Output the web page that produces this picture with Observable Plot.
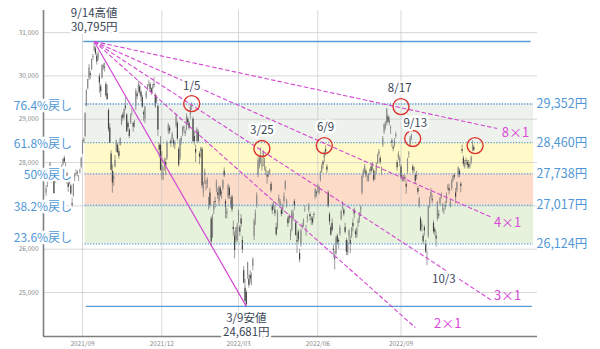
<!DOCTYPE html>
<html><head><meta charset="utf-8">
<script src="https://cdn.jsdelivr.net/npm/d3@7"></script>
<script src="https://cdn.jsdelivr.net/npm/@observablehq/plot@0.6"></script>
<style>body{margin:0;background:#fff}svg{display:block}</style>
</head><body><div id="chart"></div>
<script>
// ---- daily candles [day, open, high, low, close] ----
const m2021_07 = [[20,27300,27470,27220,27388],[21,27560,27650,27420,27548],[26,27700,27880,27650,27833],[27,27890,28000,27860,27970],[28,27680,27700,27520,27581],[29,27690,27830,27630,27782],[30,27600,27660,27270,27283]];
const m2021_08 = [[2,27560,27800,27520,27781],[3,27800,27830,27600,27641],[4,27690,27720,27540,27584],[5,27630,27740,27560,27728],[6,27850,27900,27760,27820],[10,27900,27950,27830,27888],[11,27960,28080,27920,28070],[12,28100,28150,27980,28015],[13,27980,28000,27890,27977],[16,27750,27780,27500,27523],[17,27510,27580,27310,27424],[18,27500,27640,27480,27585],[19,27460,27500,27240,27281],[20,27050,27180,26954,27013],[23,27230,27510,27200,27494],[24,27660,27750,27560,27732],[25,27730,27830,27690,27724],[26,27760,27810,27670,27742],[27,27640,27700,27560,27641],[30,27800,27850,27730,27789],[31,27900,28120,27850,28089]];
const m2021_09 = [[1,28200,28510,28190,28451],[2,28480,28570,28440,28543],[3,28600,29150,28580,29128],[6,29300,29680,29290,29660],[7,29700,29920,29680,29916],[8,29950,30260,29900,30181],[9,30050,30100,29910,30008],[10,30150,30390,30120,30381],[13,30420,30500,30360,30447],[14,30600,30795,30550,30670],[15,30620,30670,30470,30511],[16,30460,30520,30250,30323],[17,30400,30560,30340,30500],[21,29980,30050,29600,29839],[22,29750,29810,29500,29639],[24,29950,30250,29920,30248],[27,30180,30280,30130,30240],[28,30200,30300,30090,30183],[29,29800,29850,29500,29544],[30,29580,29790,29440,29452]];
const m2021_10 = [[1,29200,29240,28700,28771],[4,28800,28900,28440,28444],[5,28200,28270,27800,27822],[6,27800,27950,27293,27528],[7,27600,27780,27450,27678],[8,27900,28160,27880,28048],[11,28250,28520,28230,28498],[12,28400,28450,28200,28230],[13,28250,28320,28080,28140],[14,28400,28570,28380,28550],[15,28880,29090,28850,29068],[18,29100,29150,28950,29025],[19,29050,29250,29000,29215],[20,29300,29490,29200,29255],[21,29100,29130,28700,28708],[22,28900,28950,28750,28804],[25,28750,28780,28550,28600],[26,28900,29120,28880,29106],[27,29100,29240,29080,29098],[28,28900,28940,28700,28820],[29,28900,28970,28800,28892]];
const m2021_11 = [[1,29300,29700,29200,29647],[2,29580,29640,29450,29520],[4,29650,29880,29600,29794],[5,29750,29800,29550,29611],[8,29620,29650,29400,29507],[9,29500,29550,29250,29285],[10,29150,29200,28950,29106],[11,29000,29300,28900,29277],[12,29500,29650,29450,29609],[15,29680,29800,29650,29776],[16,29800,29900,29750,29808],[17,29800,29850,29650,29688],[18,29700,29720,29550,29598],[19,29700,29800,29600,29745],[22,29800,29960,29720,29774],[24,29550,29600,29250,29302],[25,29400,29550,29350,29499],[26,29300,29310,28600,28751],[29,28400,28450,28100,28283],[30,28400,28600,27800,27821]];
const m2021_12 = [[1,27800,28250,27600,27935],[2,27700,27900,27580,27753],[3,28000,28100,27800,28029],[6,28000,28100,27700,27927],[7,28100,28500,28050,28455],[8,28700,28900,28650,28860],[9,28800,28850,28650,28725],[10,28500,28550,28350,28437],[13,28550,28700,28500,28640],[14,28500,28550,28350,28432],[15,28400,28500,28300,28459],[16,28850,29100,28800,29066],[17,28900,28950,28500,28545],[20,28300,28350,27890,27937],[21,28100,28550,28050,28517],[22,28500,28600,28400,28562],[23,28650,28830,28600,28798],[24,28800,28850,28700,28782],[27,28700,28750,28600,28676],[28,28750,29120,28730,29069],[29,29000,29050,28850,28906],[30,28900,28950,28750,28791]];
const m2022_01 = [[4,29100,29320,29000,29301],[5,29300,29388,29200,29332],[6,29000,29050,28450,28487],[7,28600,28700,28400,28478],[11,28300,28400,28000,28222],[12,28500,28800,28450,28765],[13,28700,28750,28450,28489],[14,28200,28250,27950,28124],[17,28250,28350,28100,28333],[18,28300,28350,27400,27467],[19,27300,27550,27200,27467],[20,27700,27850,27500,27772],[21,27500,27600,27350,27522],[24,27500,27650,27400,27588],[25,27100,27200,26900,27131],[26,27300,27400,26950,27011],[27,26700,26750,26044,26170],[28,26300,26800,26250,26717],[31,26900,27100,26800,27001]];
const m2022_02 = [[1,27100,27200,26950,27078],[2,27400,27600,27300,27533],[3,27300,27400,27150,27241],[4,27100,27450,27000,27439],[7,27400,27450,27200,27248],[8,27300,27350,27150,27284],[9,27400,27600,27350,27579],[10,27800,27880,27650,27696],[14,27100,27150,26700,26963],[15,26800,26950,26700,26865],[16,27200,27500,27150,27460],[17,27400,27450,27150,27232],[18,27000,27200,26950,27122],[21,27200,27250,26850,26910],[22,26500,26650,26300,26449],[24,26300,26400,25776,25970],[25,26200,26500,26150,26476],[28,26200,26600,26150,26526]];
const m2022_03 = [[1,26750,26900,26600,26844],[2,26500,26550,26300,26393],[3,26700,26800,26500,26577],[4,26200,26300,25900,25985],[7,25500,25600,25200,25221],[8,25100,25300,24800,24790],[9,25000,25050,24681,24717],[10,25400,25700,25300,25690],[11,25300,25400,25100,25162],[14,25400,25500,25200,25307],[15,25350,25450,25150,25346],[16,25600,25800,25500,25762],[17,26300,26700,26200,26652],[18,26700,26900,26550,26827],[22,27000,27300,26950,27224],[23,27700,28100,27650,28040],[24,27900,28150,27850,28110],[25,28000,28340,27950,28149],[28,27900,28100,27800,27943],[29,28100,28280,27900,28252],[30,28000,28100,27800,28027],[31,27800,27900,27700,27821]];
const m2022_04 = [[1,27700,27800,27500,27666],[4,27700,27800,27650,27736],[5,27800,27850,27700,27787],[6,27500,27550,27300,27350],[7,27000,27050,26800,26888],[8,27000,27100,26900,26985],[11,26900,27000,26750,26821],[12,26500,26600,26300,26335],[13,26500,26900,26450,26843],[14,27100,27250,27050,27172],[15,27000,27150,26950,27093],[18,26900,26950,26750,26800],[19,26900,27050,26800,26985],[20,27100,27300,27050,27217],[21,27400,27580,27350,27553],[22,27000,27150,26950,27105],[25,26700,26750,26500,26590],[26,26750,26800,26600,26700],[27,26300,26450,26200,26386],[28,26450,26900,26400,26847]];
const m2022_05 = [[2,26700,26900,26650,26818],[6,27100,27150,26900,27003],[9,26600,26650,26300,26319],[10,26200,26350,25900,26167],[11,26400,26450,26150,26213],[12,25900,26000,25688,25748],[13,26100,26450,26050,26427],[16,26500,26600,26450,26547],[17,26600,26700,26500,26659],[18,26900,27000,26850,26911],[19,26400,26550,26300,26402],[20,26700,26800,26600,26739],[23,26900,27050,26850,27001],[24,26800,26850,26650,26748],[25,26700,26750,26550,26677],[26,26700,26750,26550,26604],[27,26800,26850,26700,26781],[30,27200,27400,27150,27369],[31,27300,27350,27200,27279]];
const m2022_06 = [[1,27400,27500,27300,27457],[2,27300,27450,27250,27413],[3,27600,27800,27550,27761],[6,27800,27950,27750,27915],[7,28000,28050,27850,27943],[8,28100,28250,28000,28234],[9,28300,28389,28150,28246],[10,27900,27950,27750,27824],[13,27300,27350,26950,26987],[14,26800,26850,26550,26629],[15,26500,26550,26300,26326],[16,26600,26700,26400,26431],[17,26000,26100,25800,25963],[20,25800,25950,25520,25771],[21,25900,26300,25850,26246],[22,26300,26350,26100,26149],[23,26200,26250,26000,26171],[24,26350,26550,26300,26491],[27,26700,26900,26650,26871],[28,26950,27100,26900,27049],[29,26900,26950,26750,26804],[30,26500,26600,26350,26393]];
const m2022_07 = [[1,26200,26250,25850,25935],[4,25900,26200,25850,26153],[5,26300,26450,26200,26423],[6,26200,26300,25900,26107],[7,26300,26500,26250,26490],[8,26600,26700,26400,26517],[11,26900,26950,26700,26812],[12,26400,26450,26250,26336],[13,26300,26500,26250,26478],[14,26600,26700,26500,26643],[15,26700,26850,26600,26788],[19,26900,27000,26750,26961],[20,27300,27700,27250,27680],[21,27700,27850,27650,27803],[22,27800,27950,27750,27915],[25,27800,27850,27650,27699],[26,27650,27700,27550,27655],[27,27600,27750,27550,27715],[28,27800,27850,27700,27815],[29,27900,27950,27750,27801]];
const m2022_08 = [[1,27850,28000,27800,27993],[2,27800,27850,27550,27594],[3,27700,27800,27600,27741],[4,27800,28000,27750,27932],[5,28000,28200,27950,28176],[8,28200,28300,28150,28249],[9,28100,28150,27950,27999],[10,27800,27900,27700,27819],[12,28400,28600,28350,28546],[15,28700,28900,28650,28871],[16,28800,28950,28750,28868],[17,28900,29250,28850,29222],[18,29050,29100,28900,28942],[19,28950,29050,28850,28930],[22,28800,28850,28650,28794],[23,28500,28550,28350,28452],[24,28350,28400,28250,28313],[25,28400,28550,28350,28479],[26,28600,28700,28550,28641],[29,28000,28050,27800,27878],[30,28100,28250,28050,28195],[31,28000,28150,27900,28091]];
const m2022_09 = [[1,27900,27950,27600,27661],[2,27600,27700,27550,27650],[5,27600,27700,27550,27619],[6,27650,27700,27550,27626],[7,27500,27550,27270,27430],[8,27800,28100,27750,28065],[9,28200,28250,28100,28214],[12,28400,28600,28350,28542],[13,28550,28659,28500,28614],[14,27900,27950,27750,27818],[15,27800,27900,27750,27875],[16,27700,27750,27500,27567],[20,27700,27800,27600,27688],[21,27400,27450,27250,27313],[22,27000,27200,26950,27153],[26,26700,26750,26400,26431],[27,26500,26650,26400,26571],[28,26300,26350,26100,26173],[29,26500,26550,26300,26422],[30,26100,26200,25900,25937]];
const m2022_10 = [[3,25800,25950,25621,25815],[4,26300,27000,26250,26992],[5,27000,27200,26950,27120],[6,27200,27400,27150,27311],[7,27150,27250,27050,27116],[11,26600,26650,26350,26401],[12,26450,26500,26300,26397],[13,26300,26400,26050,26237],[14,26700,27100,26650,27090],[17,26800,26900,26700,26775],[18,27050,27200,27000,27156],[19,27200,27300,27150,27257],[20,27000,27050,26850,27006],[21,26900,26950,26800,26891],[24,27000,27100,26900,26974],[25,27100,27300,27050,27250],[26,27400,27500,27350,27432],[27,27400,27500,27250,27345],[28,27000,27150,26950,27105],[31,27400,27600,27350,27587]];
const m2022_11 = [[1,27600,27700,27550,27678],[2,27700,27750,27600,27663],[4,27300,27400,27050,27199],[7,27350,27550,27300,27527],[8,27700,27900,27650,27872],[9,27800,27850,27650,27716],[10,27500,27550,27300,27446],[11,28300,28400,28200,28263],[14,28100,28150,27900,27963],[15,27900,28050,27850,27990],[16,28050,28100,27950,28028],[17,28000,28050,27850,27930],[18,27950,28050,27850,27899],[21,27900,28000,27850,27944],[22,28000,28150,27950,28115],[24,28300,28502,28250,28383],[25,28350,28400,28250,28283]];
const months = [["2021-07",m2021_07],["2021-08",m2021_08],["2021-09",m2021_09],["2021-10",m2021_10],["2021-11",m2021_11],["2021-12",m2021_12],["2022-01",m2022_01],["2022-02",m2022_02],["2022-03",m2022_03],["2022-04",m2022_04],["2022-05",m2022_05],["2022-06",m2022_06],["2022-07",m2022_07],["2022-08",m2022_08],["2022-09",m2022_09],["2022-10",m2022_10],["2022-11",m2022_11]];
const closedDays = ["2023-01-02","2023-01-03","2023-01-09","2023-02-23"];

// ---- retracement levels ----
const peakDate = "2021-09-14", peakPrice = 30795;
const lowDate = "2022-03-09", lowPrice = 24681;
const levelNames = ["76.4%戻し","61.8%戻し","50%戻し","38.2%戻し","23.6%戻し"];
const levelPrices = [29352, 28460, 27738, 27017, 26124];
const levelNamePrices = [29308, 28415, 27700, 26968, 26255];
const levelTexts = ["29,352円","28,460円","27,738円","27,017円","26,124円"];
const levelSpan = ["2021-09-03","2023-02-02"];
const highLineSpan = ["2021-09-02","2023-01-31"];
const lowLineSpan = ["2021-09-06","2023-02-01"];
const bandFills = ["#eef2ec","#fffac8","#fcdcc8","#e6f2db"];

// ---- Gann fan lines (from the 9/14 high) ----
const fanNames = ["1×1","2×1","3×1","4×1","8×1"];
const fanEndDates = ["2022-03-09","2022-09-16","2022-12-15","2022-12-15","2022-12-21"];
const fanEndPrices = [24681, 24192, 24815, 26731, 28785];
const fanLabelDates = [null,"2022-10-26","2023-01-04","2023-01-04","2023-01-13"];
const fanLabelPrices = [null, 24277, 24930, 26615, 28692];

// ---- circles and annotations ----
const circleDates = ["2022-01-05","2022-03-28","2022-06-08","2022-09-01","2022-09-14","2022-11-28"];
const circlePrices = [29360, 28323, 28392, 29292, 28554, 28392];
const noteTexts = ["9/14高値","30,795円","1/5","3/25","6/9","8/17","9/13","10/3","3/9安値","24,681円"];
const noteDates = ["2021-09-14","2021-09-14","2022-01-05","2022-03-28","2022-06-09","2022-08-31","2022-09-16","2022-10-21","2022-03-09","2022-03-09"];
const notePrices = [31440, 31115, 29754, 28738, 28808, 29708, 28900, 25300, 24408, 24085];

// ---- axes ----
const yTicks = [25000, 26000, 27000, 28000, 29000, 30000, 31000];
const yTickLabels = [25000, 26000, 28000, 29000, 30000, 31000];
const xTickDates = ["2021-09-01","2021-12-01","2022-03-01","2022-06-01","2022-09-01"];
const xTickLabels = ["2021/09","2021/12","2022/03","2022/06","2022/09"];
const xDomainDates = ["2021-07-16","2023-02-07"];
const yDomain = [23985, 31510];

// ---- trading-day calendar ----
const candles = months.flatMap(([ym, rows]) => rows.map(([d,o,h,l,c]) => ({date:`${ym}-${String(d).padStart(2,"0")}`, o, h, l, c})));
function addDays(s, n){ const t = new Date(s+"T00:00:00Z"); t.setUTCDate(t.getUTCDate()+n); return t.toISOString().slice(0,10); }
function isTrading(s){ const w = new Date(s+"T00:00:00Z").getUTCDay(); return w>0 && w<6 && !closedDays.includes(s); }
const cal = candles.map(d => d.date);
const pre = []; let s0 = cal[0]; while (pre.length < 5) { s0 = addDays(s0,-1); if (isTrading(s0)) pre.unshift(s0); }
const post = []; let s1 = cal[cal.length-1]; while (s1 < "2023-03-31") { s1 = addDays(s1,1); if (isTrading(s1)) post.push(s1); }
const calendar = [...pre, ...cal, ...post];
const pos = new Map(calendar.map((d,i) => [d,i]));
const origin = pos.get("2021-09-01");
const T = d => pos.get(d) - origin;

const bands = levelPrices.slice(0,-1).map((p,i) => ({hi:p, lo:levelPrices[i+1], fill:bandFills[i]}));
const fans = fanNames.map((n,i) => ({name:n, end:fanEndDates[i], endPrice:fanEndPrices[i]}));
const fanLabels = fanNames.map((n,i) => ({name:n, date:fanLabelDates[i], price:fanLabelPrices[i]})).filter(d => d.date);
const circles = circleDates.map((d,i) => ({date:d, price:circlePrices[i]}));
const notes = noteTexts.map((t,i) => ({text:t, date:noteDates[i], price:notePrices[i]}));
const levels = levelPrices.map((p,i) => ({price:p, namePrice:levelNamePrices[i], name:levelNames[i], text:levelTexts[i]}));

const blue = "#5b9bd5", magenta = "#d347d3", navy = "#3a4656", labelBlue = "#4f97d6";
const font = "'Noto Sans CJK JP', 'Noto Sans', sans-serif";

const chart = Plot.plot({
  width: 600, height: 349,
  marginTop: 10, marginBottom: 13, marginLeft: 43, marginRight: 63,
  x: {type: "linear", domain: xDomainDates.map(T), axis: null},
  y: {domain: yDomain, axis: null},
  style: {fontFamily: font, background: "white", overflow: "visible"},
  marks: [
    Plot.rect(bands, {x1: () => T(levelSpan[0]), x2: () => T(levelSpan[1]), y1: "lo", y2: "hi", fill: "fill"}),
    Plot.ruleY(yTicks, {stroke: "#c8c8c8", strokeOpacity: 0.7, strokeWidth: 1}),
    Plot.ruleX(xTickDates, {x: d => T(d), stroke: "#c8c8c8", strokeOpacity: 0.7, strokeWidth: 1}),
    // candles
    Plot.ruleX(candles, {x: d => T(d.date), y1: "l", y2: "h", stroke: "#5e5e5e", strokeWidth: 0.6}),
    Plot.ruleX(candles, {x: d => T(d.date), y1: "o", y2: "c", stroke: d => d.c >= d.o ? "#8c8c8c" : "#404040", strokeWidth: 1.15}),
    // retracement lines
    Plot.ruleY(levels, {y: "price", x1: () => T(levelSpan[0]), x2: () => T(levelSpan[1]), stroke: blue, strokeWidth: 1.3, strokeDasharray: "1.3,1.5"}),
    Plot.ruleY([peakPrice], {x1: () => T(highLineSpan[0]), x2: () => T(highLineSpan[1]), stroke: blue, strokeWidth: 1.3}),
    Plot.ruleY([lowPrice], {x1: () => T(lowLineSpan[0]), x2: () => T(lowLineSpan[1]), stroke: blue, strokeWidth: 1.3}),
    // fans
    Plot.link(fans.filter(d => d.name === "1×1"), {x1: () => T(peakDate), y1: () => peakPrice, x2: d => T(d.end), y2: "endPrice", stroke: magenta, strokeWidth: 1.2}),
    Plot.link(fans.filter(d => d.name !== "1×1"), {x1: () => T(peakDate), y1: () => peakPrice, x2: d => T(d.end), y2: "endPrice", stroke: magenta, strokeWidth: 1.1, strokeDasharray: "4.5,2.2"}),
    // circles
    Plot.dot(circles, {x: d => T(d.date), y: "price", r: 8, stroke: "#d9332e", strokeWidth: 1.4, fill: "none"}),
    // axis lines
    Plot.ruleX([xDomainDates[0]], {x: d => T(d), stroke: "#808080", strokeWidth: 1.6}),
    Plot.ruleY([yDomain[0]], {stroke: "#808080", strokeWidth: 1.6}),
    // y tick labels
    Plot.text(yTickLabels, {y: d => d, frameAnchor: "left", textAnchor: "end", dx: -5, text: d => d3.format(",")(d), fontSize: 6.5, fill: "#8a8a8a"}),
    // level labels
    Plot.text(levels, {x: () => T("2021-08-20"), y: "namePrice", text: "name", textAnchor: "end", fontSize: 12, fill: labelBlue, stroke: "white", strokeWidth: 5}),
    Plot.text(levels, {y: "price", frameAnchor: "right", text: "text", textAnchor: "start", dx: -1, fontSize: 12.5, fill: labelBlue}),
    // fan labels
    Plot.text(fanLabels, {x: d => T(d.date), y: "price", text: "name", fontSize: 13, fill: "#d94ad9"}),
    // annotations
    Plot.text(notes, {x: d => T(d.date), y: "price", text: "text", fontSize: 11.5, fill: navy, stroke: "white", strokeWidth: 5}),
    // x tick labels (on top)
    Plot.text(xTickDates, {x: d => T(d), frameAnchor: "bottom", lineAnchor: "top", dy: 4.5, text: (d,i) => xTickLabels[i], fontSize: 6.5, fill: "#8a8a8a"})
  ]
});
document.getElementById("chart").appendChild(chart);
</script>
</body></html>
